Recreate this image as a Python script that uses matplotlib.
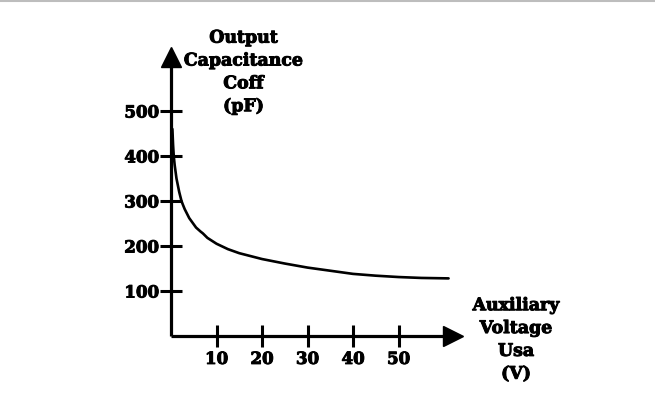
import matplotlib
matplotlib.use("Agg")
import matplotlib.pyplot as plt
import matplotlib.patheffects as pe
from matplotlib.lines import Line2D

# values
voltage = [0.3, 0.45, 0.6, 0.8, 1.0, 1.2, 1.5, 1.8, 2.3, 2.6, 3.0, 3.5, 4.0, 4.5, 5.0, 5.5,
           6.5, 7.0, 8.0, 10, 12.5, 15, 20, 25, 30, 35, 40, 45, 50, 55, 61]
capacitance = [460, 425, 400, 380, 365, 350, 335, 320, 300, 292, 282, 272, 262, 255, 248, 241,
               232, 228, 218, 205, 193, 184, 171, 161, 152, 145, 138, 134, 131, 129, 128]

x_ticks = [10, 20, 30, 40, 50]
y_ticks = [100, 200, 300, 400, 500]

font = {"family": "DejaVu Serif", "weight": "bold"}
heavy = [pe.withStroke(linewidth=0.7, foreground="black")]

fig = plt.figure(figsize=(6.55, 4.05), dpi=100)
ax = fig.add_axes([0.2611, 0.1704, 0.4307, 0.6889])

# thin grey line across the top of the picture
fig.add_artist(Line2D([0, 1], [0.998, 0.998], color="#bdbdbd", lw=1.5, transform=fig.transFigure))

ax.plot(voltage, capacitance, color="black", lw=1.9, solid_capstyle="round")

ax.set_xlim(0, 62)
ax.set_ylim(0, 620)
ax.set_xticks(x_ticks)
ax.set_yticks(y_ticks)
ax.set_xticklabels([str(t) for t in x_ticks], fontdict=font, fontsize=12)
ax.set_yticklabels([str(t) for t in y_ticks], fontdict=font, fontsize=12)
ax.tick_params(direction="inout", length=15.5, width=2.2, pad=1)
ax.tick_params(axis="x", pad=3)
for lab in ax.get_xticklabels() + ax.get_yticklabels():
    lab.set_path_effects(heavy)

for side in ["top", "right"]:
    ax.spines[side].set_visible(False)
for side in ["left", "bottom"]:
    ax.spines[side].set_linewidth(2.3)
    ax.spines[side].set_capstyle("butt")

# arrow heads at the ends of the axes
ax.plot(1, 0, ">k", markersize=14, transform=ax.get_yaxis_transform(), clip_on=False)
ax.plot(0, 1, "^k", markersize=14, transform=ax.get_xaxis_transform(), clip_on=False)

ax.set_ylabel("Output\nCapacitance\nCoff\n(pF)", rotation=0, ha="center", va="top",
              fontdict=font, fontsize=12.5, linespacing=1.45, path_effects=heavy)
ax.yaxis.set_label_coords(0.257, 1.098)
ax.set_xlabel("Auxiliary\nVoltage\nUsa\n(V)", ha="center", va="top",
              fontdict=font, fontsize=12.5, linespacing=1.45, path_effects=heavy)
ax.xaxis.set_label_coords(1.223, 0.139)

fig.savefig("out.png", dpi=100)
